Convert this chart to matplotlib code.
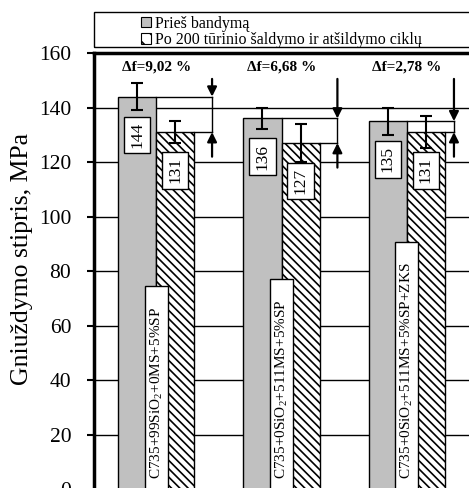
import matplotlib
matplotlib.use("Agg")
import matplotlib.pyplot as plt
from matplotlib.patches import Patch, Rectangle
import numpy as np

# ------------------------------------
# data
# ------------------------------------
categories = [r"C735+99SiO$_2$+0MS+5%SP",
              r"C735+0SiO$_2$+511MS+5%SP",
              r"C735+0SiO$_2$+511MS+5%SP+ZKS"]
before = [144, 136, 135]
after = [131, 127, 131]
before_err = [5, 4, 5]
after_err = [4, 7, 6]
delta_f = ["9,02", "6,68", "2,78"]
yticks = [0, 20, 40, 60, 80, 100, 120, 140, 160]
legend_labels = ["Prieš bandymą", "Po 200 tūrinio šaldymo ir atšildymo ciklų"]

plt.rcParams["font.family"] = ["Liberation Serif", "DejaVu Serif"]
plt.rcParams["mathtext.fontset"] = "custom"
plt.rcParams["mathtext.rm"] = "Liberation Serif"
plt.rcParams["hatch.linewidth"] = 1.2

W, H = 469, 488
fig = plt.figure(figsize=(W / 100, H / 100), dpi=100)
ax = fig.add_axes([93.5 / W, -1.5 / H, 376 / W, 436.5 / H])

x = np.arange(len(categories))
w = 0.304
gray = "#c0c0c0"

ax.bar(x - w / 2, before, w, color=gray, edgecolor="black", linewidth=1.0, zorder=2)
ax.bar(x + w / 2, after, w, color="white", edgecolor="black", linewidth=1.0,
       hatch="\\\\\\\\", zorder=2)
ax.errorbar(x - w / 2, before, yerr=before_err, fmt="none", ecolor="black",
            elinewidth=1.5, capsize=4, capthick=1.5, zorder=4)
ax.errorbar(x + w / 2, after, yerr=after_err, fmt="none", ecolor="black",
            elinewidth=1.5, capsize=4, capthick=1.5, zorder=4)

box = dict(boxstyle="square,pad=0.3", facecolor="white", edgecolor="black", linewidth=1.0)

# value labels inside the bars
for i in range(len(x)):
    ax.text(x[i] - w / 2, before[i] - 14, str(before[i]), rotation=90,
            ha="center", va="center", fontsize=12.5, bbox=box, zorder=5)
    ax.text(x[i] + w / 2, after[i] - 14, str(after[i]), rotation=90,
            ha="center", va="center", fontsize=12.5, bbox=box, zorder=5)

# category labels standing in the middle of each group
cat_texts = []
for i, lab in enumerate(categories):
    t = ax.text(x[i], 4, lab, rotation=90, ha="center", va="bottom",
                fontsize=11, zorder=6)
    cat_texts.append(t)

# difference markers
arrow_dx = [0.446, 0.446, 0.376]
for i in range(len(x)):
    xa = x[i] + arrow_dx[i]
    ax.plot([x[i], xa], [before[i], before[i]], color="black", lw=1.0, zorder=3)
    ax.plot([x[i] + w, xa], [after[i], after[i]], color="black", lw=1.0, zorder=3)
    ax.plot([xa, xa], [after[i], before[i]], color="black", lw=1.0, zorder=3)
    ax.annotate("", xy=(xa, before[i]), xytext=(xa, 150.5),
                arrowprops=dict(arrowstyle="-|>", color="black", lw=1.6,
                                mutation_scale=14, shrinkA=0, shrinkB=0), zorder=4)
    ax.annotate("", xy=(xa, after[i]), xytext=(xa, after[i] - 9),
                arrowprops=dict(arrowstyle="-|>", color="black", lw=1.6,
                                mutation_scale=14, shrinkA=0, shrinkB=0), zorder=4)
    ax.text(x[i], 155, "Δf=" + delta_f[i] + " %", ha="center", va="center",
            fontsize=11, fontweight="bold")

ax.set_xlim(-0.5, 2.5)
ax.set_ylim(0, 160)
ax.set_yticks(yticks)
ax.set_xticks([])
ax.yaxis.grid(True, color="black", linewidth=1.0)
ax.set_axisbelow(True)
ax.tick_params(axis="y", length=5, width=1.5, pad=11, labelsize=15.5)
ax.set_ylabel("Gniuždymo stipris, MPa", fontsize=18.5)
ax.yaxis.set_label_coords(-0.161, 0.528)
for s in ["left", "top"]:
    ax.spines[s].set_linewidth(2.5)
ax.spines["right"].set_visible(False)

# white boxes behind the category labels, a bit taller than the text
fig.canvas.draw()
renderer = fig.canvas.get_renderer()
inv = ax.transData.inverted()
for t in cat_texts:
    bb = t.get_window_extent(renderer)
    (x0, y0) = inv.transform((bb.x0 - 3, bb.y0 - 40))
    (x1, y1) = inv.transform((bb.x1 + 3, bb.y1 + 20))
    ax.add_patch(Rectangle((x0, y0), x1 - x0, y1 - y0, facecolor="white",
                           edgecolor="black", linewidth=1.0, zorder=5.5))

# legend in a box above the plot
fig.patches.append(Rectangle((93.5 / W, 1 - 47 / H), 380 / W, 35 / H,
                             transform=fig.transFigure, fill=False,
                             edgecolor="black", linewidth=1.0))
handles = [Patch(facecolor=gray, edgecolor="black", linewidth=0.8),
           Patch(facecolor="white", edgecolor="black", linewidth=0.8, hatch="\\\\")]
fig.legend(handles, legend_labels, loc="upper left",
           bbox_to_anchor=(141 / W, 1 - 15.5 / H), frameon=False, fontsize=11.5,
           handlelength=0.65, handleheight=0.65, handletextpad=0.2,
           labelspacing=0.05, borderpad=0, borderaxespad=0)

fig.savefig("out.png", dpi=100)
